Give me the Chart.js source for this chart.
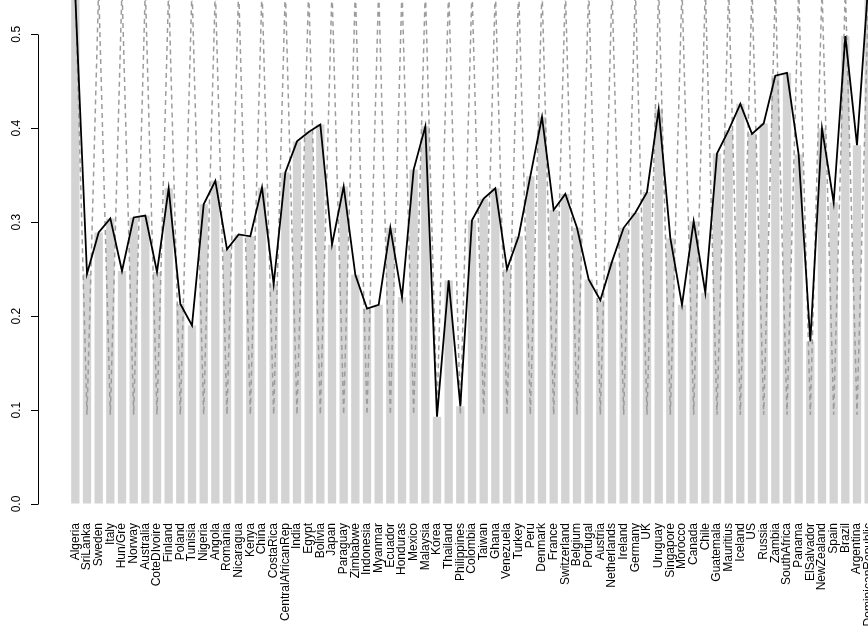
<!DOCTYPE html>
<html>
<head>
<meta charset="utf-8">
<title>Country bars</title>
<script src="https://cdn.jsdelivr.net/npm/chart.js@4.4.1/dist/chart.umd.min.js"></script>
<style>
  html, body { margin: 0; padding: 0; background: #fff; }
  #wrap { width: 868px; height: 630px; overflow: hidden; }
  canvas { display: block; }
</style>
</head>
<body>
<div id="wrap"><canvas id="chart" width="892" height="630"></canvas></div>
<script>
// Data
const countries = [
  'Algeria', 'SriLanka', 'Sweden', 'Italy', 'Hun/Gre', 'Norway', 'Australia', 'CoteDIvoire',
  'Finland', 'Poland', 'Tunisia', 'Nigeria', 'Angola', 'Romania', 'Nicaragua', 'Kenya',
  'China', 'CostaRica', 'CentralAfricanRep', 'India', 'Egypt', 'Bolivia', 'Japan', 'Paraguay',
  'Zimbabwe', 'Indonesia', 'Myanmar', 'Ecuador', 'Honduras', 'Mexico', 'Malaysia', 'Korea',
  'Thailand', 'Philippines', 'Colombia', 'Taiwan', 'Ghana', 'Venezuela', 'Turkey', 'Peru',
  'Denmark', 'France', 'Switzerland', 'Belgium', 'Portugal', 'Austria', 'Netherlands', 'Ireland',
  'Germany', 'UK', 'Uruguay', 'Singapore', 'Morocco', 'Canada', 'Chile', 'Guatemala',
  'Mauritius', 'Iceland', 'US', 'Russia', 'Zambia', 'SouthAfrica', 'Panama', 'ElSalvador',
  'NewZealand', 'Spain', 'Brazil', 'Argentina', 'DominicanRepublic'
];

const values = [
  0.540, 0.245, 0.289, 0.304, 0.248, 0.305, 0.307, 0.247,
  0.336, 0.213, 0.190, 0.319, 0.344, 0.271, 0.287, 0.285,
  0.337, 0.234, 0.353, 0.386, 0.396, 0.404, 0.276, 0.338,
  0.244, 0.208, 0.212, 0.294, 0.220, 0.356, 0.402, 0.093,
  0.238, 0.104, 0.302, 0.325, 0.336, 0.250, 0.285, 0.349,
  0.412, 0.313, 0.330, 0.294, 0.239, 0.217, 0.258, 0.294,
  0.310, 0.332, 0.420, 0.283, 0.212, 0.301, 0.225, 0.373,
  0.398, 0.426, 0.394, 0.405, 0.456, 0.459, 0.372, 0.173,
  0.400, 0.321, 0.498, 0.382, 0.560
];

// dashed zigzag: high at even bars, low at odd bars
const dashValues = [
  0.55, 0.095, 0.55, 0.095, 0.55, 0.095, 0.55, 0.095,
  0.55, 0.095, 0.55, 0.095, 0.55, 0.095, 0.55, 0.095,
  0.55, 0.095, 0.55, 0.095, 0.55, 0.095, 0.55, 0.095,
  0.55, 0.095, 0.55, 0.095, 0.55, 0.095, 0.55, 0.095,
  0.55, 0.095, 0.55, 0.095, 0.55, 0.095, 0.55, 0.095,
  0.55, 0.095, 0.55, 0.095, 0.55, 0.095, 0.55, 0.095,
  0.55, 0.095, 0.55, 0.095, 0.55, 0.095, 0.55, 0.095,
  0.55, 0.095, 0.55, 0.095, 0.55, 0.095, 0.55, 0.095,
  0.55, 0.095, 0.55, 0.095, 0.55
];

const yTicks = [0.0, 0.1, 0.2, 0.3, 0.4, 0.5];

const FONT = { family: "'Liberation Sans', Arial, sans-serif", size: 12 };

function toPoints(arr) {
  return arr.map((v, i) => ({ x: i, y: v }));
}

// R style y axis line: only from first to last tick
const axisLine = {
  id: 'axisLine',
  afterDraw(chart) {
    const ys = chart.scales.y;
    const ctx = chart.ctx;
    const x = Math.round(ys.right) + 0.5;
    ctx.save();
    ctx.strokeStyle = '#000';
    ctx.lineWidth = 1;
    ctx.beginPath();
    ctx.moveTo(x, Math.round(ys.getPixelForValue(yTicks[0])) + 0.5);
    ctx.lineTo(x, Math.round(ys.getPixelForValue(yTicks[yTicks.length - 1])) + 0.5);
    ctx.stroke();
    ctx.restore();
  }
};

new Chart(document.getElementById('chart'), {
  type: 'bar',
  data: {
    datasets: [
      {
        type: 'line',
        data: toPoints(values),
        borderColor: '#000',
        borderWidth: 1.8,
        pointRadius: 0,
        tension: 0,
        fill: false,
        order: 0
      },
      {
        type: 'line',
        data: toPoints(dashValues),
        borderColor: '#9c9c9c',
        borderWidth: 1.5,
        borderDash: [5, 4],
        pointRadius: 0,
        tension: 0,
        fill: false,
        order: 1
      },
      {
        type: 'bar',
        data: toPoints(values),
        backgroundColor: '#d3d3d3',
        borderWidth: 0,
        categoryPercentage: 1,
        barPercentage: 0.714,
        order: 2
      }
    ]
  },
  options: {
    responsive: false,
    animation: false,
    devicePixelRatio: 1,
    layout: { padding: 0 },
    scales: {
      x: {
        type: 'linear',
        min: -3.2,
        max: 70,
        offset: false,
        grid: { display: false, offset: false },
        border: { display: false },
        afterBuildTicks: s => { s.ticks = countries.map((_, i) => ({ value: i })); },
        afterFit: s => { s.height = 126; s.paddingLeft = 0; s.paddingRight = 0; },
        ticks: {
          autoSkip: false,
          minRotation: 90,
          maxRotation: 90,
          padding: 11,
          color: '#000',
          font: FONT,
          callback: v => countries[v] || ''
        }
      },
      y: {
        type: 'linear',
        min: 0,
        max: 0.5365,
        afterBuildTicks: s => { s.ticks = yTicks.map(v => ({ value: v })); },
        afterFit: s => { s.width = 38; s.paddingTop = 0; s.paddingBottom = 0; },
        grid: {
          drawOnChartArea: false,
          drawTicks: true,
          tickLength: 7,
          color: '#000'
        },
        border: { display: false },
        ticks: {
          minRotation: 90,
          maxRotation: 90,
          crossAlign: 'center',
          padding: 6,
          color: '#000',
          font: FONT,
          callback: v => v.toFixed(1)
        }
      }
    },
    plugins: {
      legend: { display: false },
      tooltip: { enabled: false }
    }
  },
  plugins: [axisLine]
});
</script>
</body>
</html>
